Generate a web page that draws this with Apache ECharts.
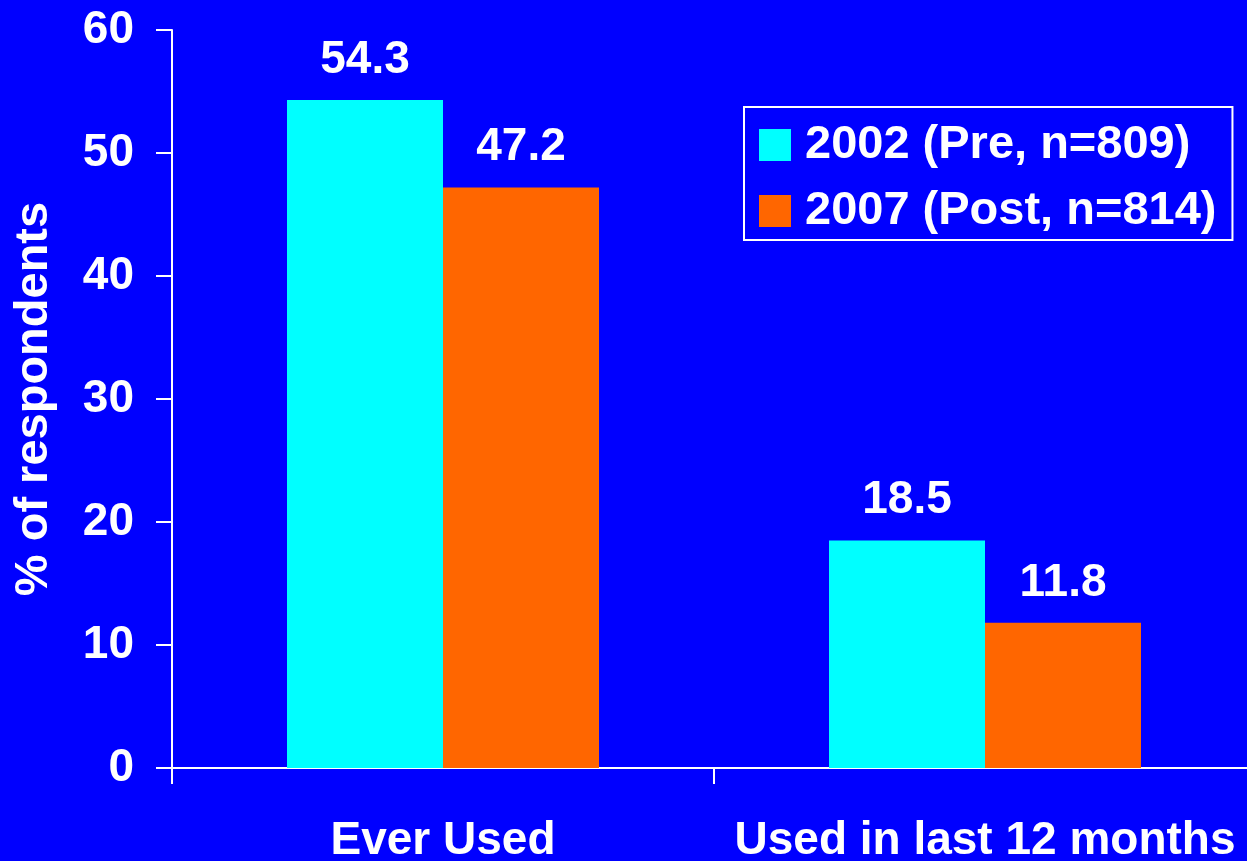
<!DOCTYPE html>
<html>
<head>
<meta charset="utf-8">
<style>
  html, body { margin: 0; padding: 0; background: #0000ff; }
  #chart { width: 1247px; height: 861px; }
</style>
<script src="https://cdn.jsdelivr.net/npm/echarts@6/dist/echarts.min.js"></script>
</head>
<body>
<div id="chart"></div>
<script>
// Survey results: share of respondents, before and after
const categories = ['Ever Used', 'Used in last 12 months'];
const seriesNames = ['2002 (Pre, n=809)', '2007 (Post, n=814)'];
const values2002 = [54.3, 18.5];
const values2007 = [47.2, 11.8];
const yTicks = [0, 10, 20, 30, 40, 50, 60];

const FONT = 'Liberation Sans, Arial, Helvetica, sans-serif';
const WHITE = '#ffffff';

const chart = echarts.init(document.getElementById('chart'), null, { renderer: 'canvas' });

const labelStyle = {
  show: true,
  position: 'top',
  distance: 17,
  color: WHITE,
  fontFamily: FONT,
  fontWeight: 'bold',
  fontSize: 46,
  lineHeight: 46,
  formatter: p => p.value.toFixed(1)
};

chart.setOption({
  backgroundColor: '#0000ff',
  animation: false,
  grid: {
    left: 172,
    top: 30,
    bottom: 93,
    width: 1084,
    containLabel: false,
    outerBoundsMode: 'none'
  },
  legend: {
    orient: 'vertical',
    left: 744,
    top: 107,
    padding: [13, 16, 4, 15],
    borderColor: WHITE,
    borderWidth: 2,
    itemWidth: 32,
    itemHeight: 32,
    itemGap: 16,
    icon: 'rect',
    textStyle: {
      color: WHITE,
      fontFamily: FONT,
      fontWeight: 'bold',
      fontSize: 47,
      lineHeight: 50,
      padding: [0, 0, 0, 9]
    },
    data: seriesNames
  },
  xAxis: {
    type: 'category',
    data: categories,
    axisLine: { lineStyle: { color: WHITE, width: 2 } },
    axisTick: { show: true, length: 16, lineStyle: { color: WHITE, width: 2 } },
    axisLabel: {
      color: WHITE,
      fontFamily: FONT,
      fontWeight: 'bold',
      fontSize: 46,
      lineHeight: 46,
      margin: 50,
      interval: 0
    }
  },
  yAxis: {
    type: 'value',
    min: yTicks[0],
    max: yTicks[yTicks.length - 1],
    interval: 10,
    name: '% of respondents',
    nameLocation: 'middle',
    nameGap: 115,
    nameTextStyle: {
      color: WHITE,
      fontFamily: FONT,
      fontWeight: 'bold',
      fontSize: 47,
      lineHeight: 46
    },
    axisLine: { show: true, lineStyle: { color: WHITE, width: 2 } },
    axisTick: { show: true, length: 16, lineStyle: { color: WHITE, width: 2 } },
    splitLine: { show: false },
    axisLabel: {
      color: WHITE,
      fontFamily: FONT,
      fontWeight: 'bold',
      fontSize: 46,
      margin: 38
    }
  },
  series: [
    {
      name: seriesNames[0],
      type: 'bar',
      data: values2002,
      barWidth: 156,
      barGap: '0%',
      itemStyle: { color: '#00ffff' },
      label: labelStyle
    },
    {
      name: seriesNames[1],
      type: 'bar',
      data: values2007,
      barWidth: 156,
      barGap: '0%',
      itemStyle: { color: '#ff6600' },
      label: labelStyle
    }
  ]
});
</script>
</body>
</html>
